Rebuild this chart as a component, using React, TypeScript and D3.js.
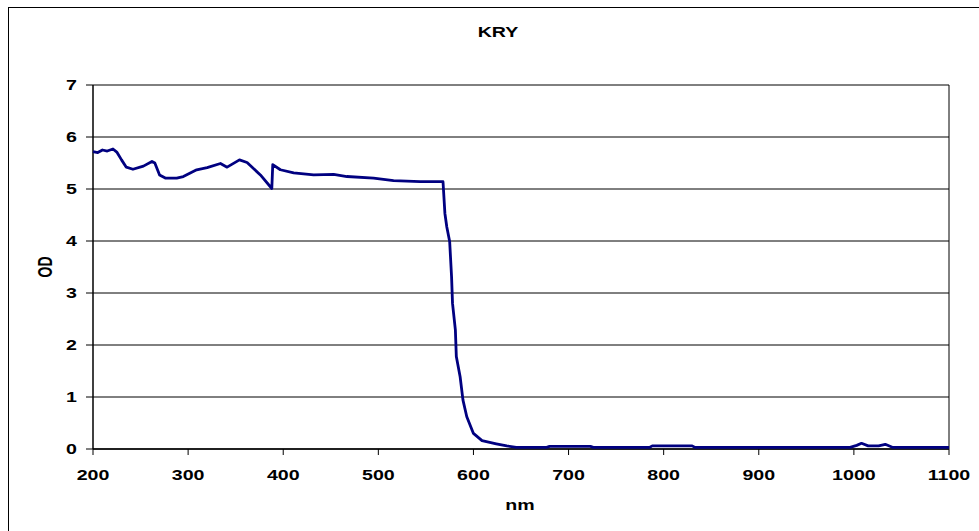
import React from "react";
import * as d3 from "d3";

const chartTitle = "KRY";
const xTitle = "nm";
const yTitle = "OD";
const xTicks = [200, 300, 400, 500, 600, 700, 800, 900, 1000, 1100];
const yTicks = [0, 1, 2, 3, 4, 5, 6, 7];

const wavelength = [
  200, 205, 210, 215, 221, 225, 230, 235, 242, 253, 262, 265, 270, 276, 288, 295,
  309, 320, 334, 341, 354, 362, 376, 388, 389, 397, 411, 432, 453, 467, 495, 516,
  544, 568, 570, 572, 575, 577, 578, 581, 582, 586, 589, 593, 600, 609, 624, 635,
  645, 677, 680, 723, 726, 785, 788, 830, 833, 996, 1003, 1008, 1015, 1026, 1033,
  1041, 1070, 1100,
];
const od = [
  5.72, 5.7, 5.75, 5.73, 5.77, 5.71, 5.56, 5.42, 5.38, 5.44, 5.53, 5.5, 5.27, 5.21,
  5.21, 5.24, 5.37, 5.41, 5.49, 5.42, 5.56, 5.51, 5.27, 5.01, 5.47, 5.37, 5.31, 5.27,
  5.28, 5.24, 5.21, 5.16, 5.14, 5.14, 4.53, 4.27, 3.99, 3.31, 2.8, 2.29, 1.78, 1.39,
  0.94, 0.62, 0.3, 0.16, 0.1, 0.06, 0.03, 0.03, 0.05, 0.05, 0.03, 0.03, 0.06, 0.06,
  0.03, 0.03, 0.07, 0.11, 0.06, 0.06, 0.09, 0.03, 0.03, 0.03,
];

const W = 979;
const H = 531;
const margin = { top: 85, right: 30, bottom: 82, left: 93 };
const font = "'Liberation Sans', Arial, sans-serif";
// the original picture is stretched sideways, so text is too
const sx = 1.4;

function Label(props: { x: number; y: number; anchor: string; rotate?: boolean; children: React.ReactNode }) {
  const { x, y, anchor, rotate, children } = props;
  const t = rotate
    ? `translate(${x},${y}) scale(${sx},1) rotate(-90)`
    : `translate(${x},${y}) scale(${sx},1)`;
  return (
    <text transform={t} textAnchor={anchor} fontSize={14}>
      {children}
    </text>
  );
}

export default function App() {
  const innerW = 949 - margin.left;
  const innerH = 449 - margin.top;
  const x = d3.scaleLinear().domain([200, 1100]).range([0, innerW]);
  const y = d3.scaleLinear().domain([0, 7]).range([innerH, 0]);
  const line = d3
    .line<number>()
    .x((d, i) => x(wavelength[i]))
    .y((d) => y(d));

  return (
    <svg
      width={W}
      height={H}
      style={{ position: "absolute", left: 0, top: 0, background: "#fff" }}
      fontFamily={font}
      fontWeight="bold"
    >
      <rect x={8.5} y={7.5} width={W + 10} height={H + 10} fill="none" stroke="#000" strokeWidth={1} />
      <Label x={498} y={37} anchor="middle">
        {chartTitle}
      </Label>
      <g transform={`translate(${margin.left},${margin.top})`}>
        {yTicks.map((t) => (
          <g key={t}>
            <line x1={0} x2={innerW} y1={y(t)} y2={y(t)} stroke="#000" strokeWidth={1} />
            <line x1={-7} x2={0} y1={y(t)} y2={y(t)} stroke="#000" />
            <Label x={-16} y={y(t) + 5} anchor="end">
              {t}
            </Label>
          </g>
        ))}
        {xTicks.map((t) => (
          <g key={t}>
            <line x1={x(t)} x2={x(t)} y1={innerH} y2={innerH + 6} stroke="#000" />
            <Label x={x(t)} y={innerH + 31} anchor="middle">
              {t}
            </Label>
          </g>
        ))}
        <line x1={innerW} x2={innerW} y1={0} y2={innerH} stroke="#000" strokeWidth={1} />
        <line x1={0} x2={0} y1={0} y2={innerH} stroke="#000" strokeWidth={1.5} />
        <line x1={0} x2={innerW} y1={innerH} y2={innerH} stroke="#000" strokeWidth={1.5} />
        <path d={line(od) ?? ""} fill="none" stroke="#000080" strokeWidth={2.8} strokeLinejoin="round" />
      </g>
      <Label x={520} y={510} anchor="middle">
        {xTitle}
      </Label>
      <Label x={52} y={267} anchor="middle" rotate>
        {yTitle}
      </Label>
    </svg>
  );
}
